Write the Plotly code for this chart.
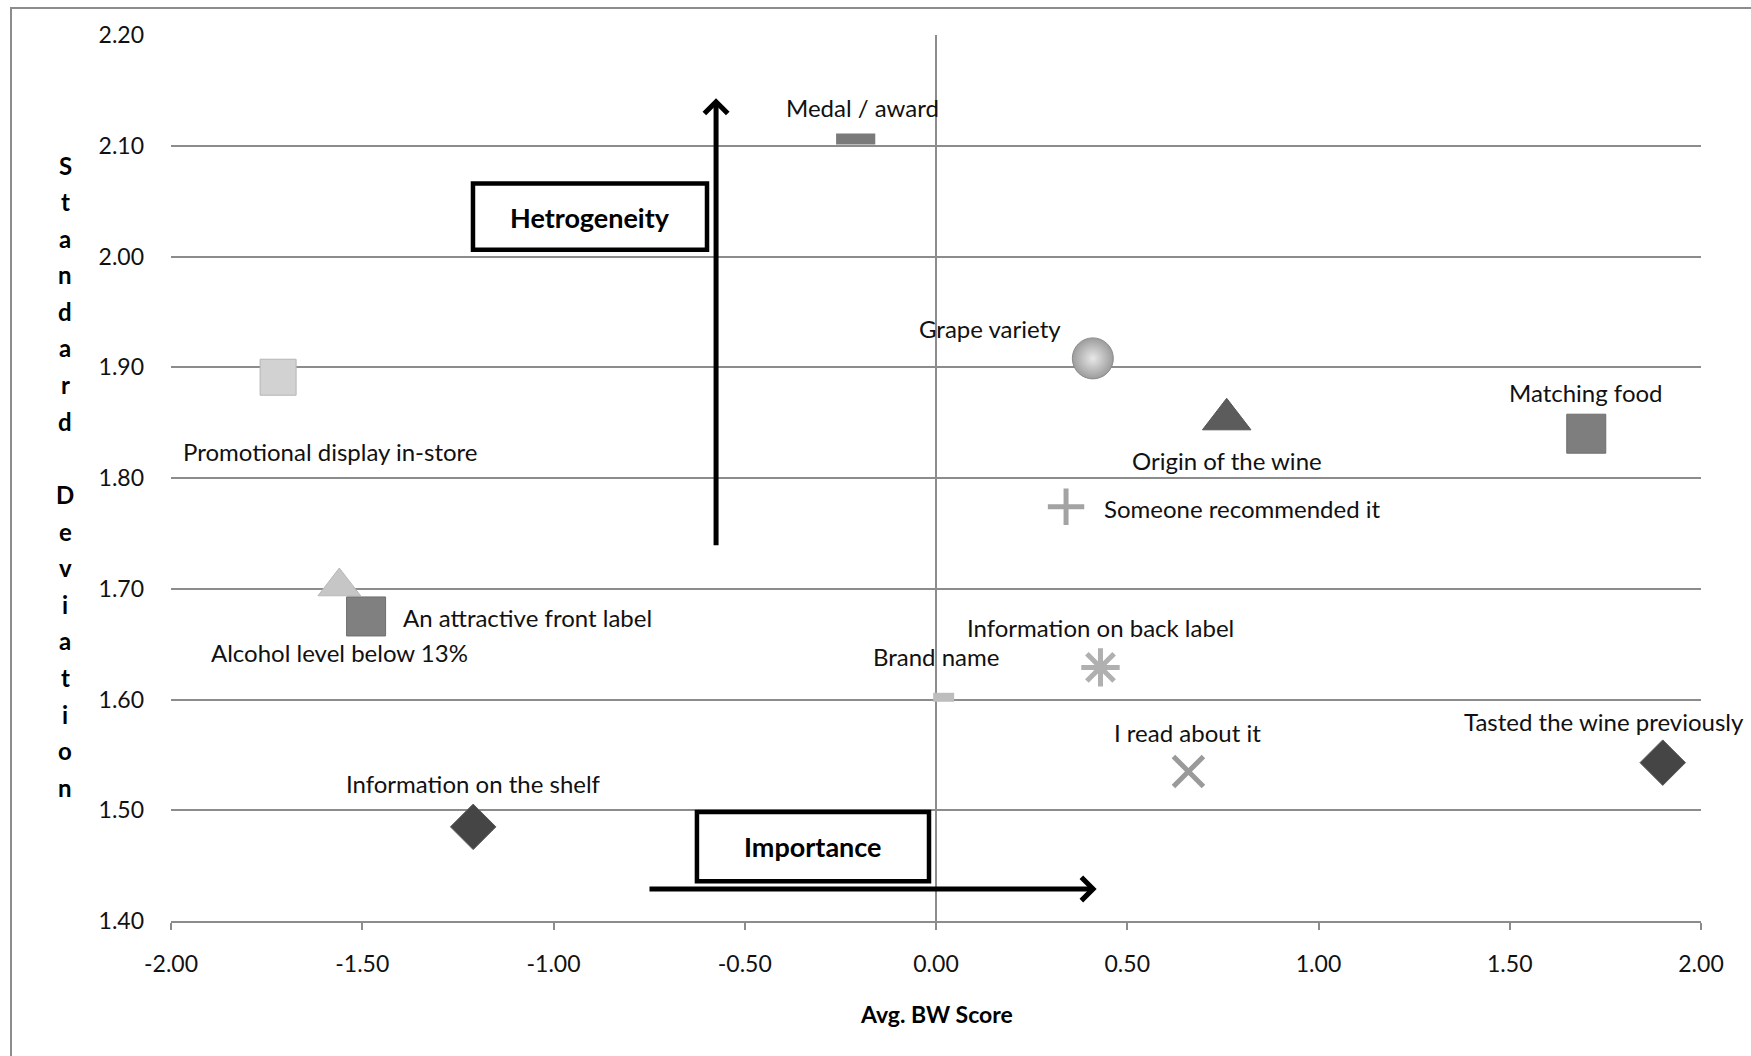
import plotly.graph_objects as go

# ---------------- data ----------------
labels = ["Medal / award", "Grape variety", "Origin of the wine", "Matching food",
          "Promotional display in-store", "Someone recommended it", "Alcohol level below 13%",
          "An attractive front label", "Information on back label", "Brand name",
          "I read about it", "Tasted the wine previously", "Information on the shelf"]
avg_bw_score = [-0.21, 0.41, 0.76, 1.70, -1.72, 0.34, -1.56, -1.49, 0.43, 0.02, 0.66, 1.90, -1.21]
std_dev = [2.106, 1.908, 1.853, 1.840, 1.891, 1.774, 1.702, 1.675, 1.629, 1.602, 1.535, 1.543, 1.485]

x_tickvals = [-2.0, -1.5, -1.0, -0.5, 0.0, 0.5, 1.0, 1.5, 2.0]
x_ticktext = ["-2.00", "-1.50", "-1.00", "-0.50", "0.00", "0.50", "1.00", "1.50", "2.00"]
y_tickvals = [1.4, 1.5, 1.6, 1.7, 1.8, 1.9, 2.0, 2.1, 2.2]
y_ticktext = ["1.40", "1.50", "1.60", "1.70", "1.80", "1.90", "2.00", "2.10", "2.20"]

# ---------------- styles ----------------
FONT = "Lato, 'Open Sans', sans-serif"
styles = {
    "Medal / award":               dict(symbol="line-ew", size=28, color="#8a8a8a", lw=11, lc="#7a7a7a"),
    "Grape variety":               dict(symbol="circle", size=41, color="#9c9c9c", lw=1, lc="#8a8a8a", grad="#e8e8e8"),
    "Origin of the wine":          dict(symbol="triangle-up", size=42, color="#5c5c5c", lw=1, lc="#555555"),
    "Matching food":               dict(symbol="square", size=39, color="#7e7e7e", lw=1, lc="#6e6e6e"),
    "Promotional display in-store": dict(symbol="square", size=36, color="#d2d2d2", lw=1, lc="#b5b5b5"),
    "Someone recommended it":      dict(symbol="cross-thin", size=26, color="#a3a3a3", lw=5, lc="#a3a3a3"),
    "Alcohol level below 13%":     dict(symbol="triangle-up", size=37, color="#c6c6c6", lw=1, lc="#b8b8b8"),
    "An attractive front label":   dict(symbol="square", size=39, color="#808080", lw=1, lc="#6e6e6e"),
    "Information on back label":   dict(symbol="asterisk", size=32, color="#b0b0b0", lw=5, lc="#b0b0b0"),
    "Brand name":                  dict(symbol="line-ew", size=15, color="#c4c4c4", lw=9, lc="#bdbdbd"),
    "I read about it":             dict(symbol="x-thin", size=30, color="#9a9a9a", lw=5, lc="#9a9a9a"),
    "Tasted the wine previously":  dict(symbol="diamond", size=35, color="#454545", lw=1, lc="#5a5a5a"),
    "Information on the shelf":    dict(symbol="diamond", size=35, color="#454545", lw=1, lc="#5a5a5a"),
}
# label offsets in pixels relative to marker centre (dx, dy up, anchor)
label_pos = {
    "Medal / award": (7, 32, "center"),
    "Grape variety": (-103, 30, "center"),
    "Origin of the wine": (0, -41, "center"),
    "Matching food": (0, 41, "center"),
    "Promotional display in-store": (52, -74, "center"),
    "Someone recommended it": (36, -2, "left"),
    "Alcohol level below 13%": (0, -66, "center"),
    "An attractive front label": (35, -1, "left"),
    "Information on back label": (0, 40, "center"),
    "Brand name": (-8, 41, "center"),
    "I read about it": (-1, 39, "center"),
    "Tasted the wine previously": (-59, 41, "center"),
    "Information on the shelf": (0, 43, "center"),
}

W, H = 1751, 1056
PL, PR, PT, PB = 171, 1701, 35, 921


def px_x(px):
    return (px - PL) / (PR - PL)


def px_y(py):
    return (PB - py) / (PB - PT)


fig = go.Figure()
for lab, xv, yv in zip(labels, avg_bw_score, std_dev):
    s = styles[lab]
    marker = dict(symbol=s["symbol"], size=s["size"], color=s["color"],
                  line=dict(width=s["lw"], color=s["lc"]))
    if "grad" in s:
        marker["gradient"] = dict(type="radial", color=s["grad"])
    fig.add_trace(go.Scatter(x=[xv], y=[yv], mode="markers", name=lab,
                             marker=marker, showlegend=False, cliponaxis=False))
    dx, dy, anc = label_pos[lab]
    fig.add_annotation(x=xv, y=yv, xref="x", yref="y", text=lab, showarrow=False,
                       xshift=dx, yshift=dy, xanchor=anc, yanchor="middle",
                       font=dict(family=FONT, size=24, color="#111111"))

shapes = []
# outer chart border
shapes.append(dict(type="rect", xref="paper", yref="paper",
                   x0=px_x(11), x1=px_x(1760), y0=px_y(1070), y1=px_y(8),
                   line=dict(color="#8c8c8c", width=2), fillcolor="rgba(0,0,0,0)", layer="below"))
# Hetrogeneity box
shapes.append(dict(type="rect", xref="x", yref="y", x0=-1.2105, x1=-0.5987, y0=2.006, y1=2.066,
                   line=dict(color="black", width=4.5), fillcolor="white", layer="above"))
# Importance box
shapes.append(dict(type="rect", xref="x", yref="y", x0=-0.625, x1=-0.0183, y0=1.436, y1=1.4984,
                   line=dict(color="black", width=4.5), fillcolor="white", layer="above"))
fig.update_layout(shapes=shapes)

fig.add_annotation(x=-0.905, y=2.035, xref="x", yref="y", text="<b>Hetrogeneity</b>", showarrow=False,
                   font=dict(family=FONT, size=27, color="black"))
fig.add_annotation(x=-0.322, y=1.467, xref="x", yref="y", text="<b>Importance</b>", showarrow=False,
                   font=dict(family=FONT, size=27, color="black"))

# arrows
fig.add_annotation(x=-0.575, y=2.143, ax=-0.575, ay=1.738, xref="x", yref="y", axref="x", ayref="y",
                   text="", showarrow=True, arrowhead=4, arrowwidth=5, arrowsize=0.9, arrowcolor="black")
fig.add_annotation(x=0.42, y=1.429, ax=-0.753, ay=1.429, xref="x", yref="y", axref="x", ayref="y",
                   text="", showarrow=True, arrowhead=4, arrowwidth=5, arrowsize=0.9, arrowcolor="black")

# y axis title: stacked letters
title_lines = list("Standard") + [""] + list("Deviation")
for i, ch in enumerate(title_lines):
    if ch:
        fig.add_annotation(x=px_x(65), y=px_y(165 + i * 36.6), xref="paper", yref="paper",
                           text="<b>%s</b>" % ch, showarrow=False, xanchor="center", yanchor="middle",
                           font=dict(family=FONT, size=24, color="black"))
# x axis title
fig.add_annotation(x=px_x(936), y=px_y(1014), xref="paper", yref="paper", text="<b>Avg. BW Score</b>",
                   showarrow=False, xanchor="center", yanchor="middle",
                   font=dict(family=FONT, size=23, color="black"))

fig.update_xaxes(range=[-2, 2], tickvals=x_tickvals, ticktext=x_ticktext, showgrid=False,
                 zeroline=True, zerolinecolor="#8c8c8c", zerolinewidth=2,
                 showline=True, linecolor="#8c8c8c", linewidth=2,
                 ticks="outside", ticklen=7, tickwidth=2, tickcolor="#8c8c8c",
                 ticklabelstandoff=14,
                 tickfont=dict(family=FONT, size=23, color="#111111"), fixedrange=True)
fig.update_yaxes(range=[1.4, 2.2], tickvals=y_tickvals, ticktext=y_ticktext, showgrid=True,
                 gridcolor="#8c8c8c", gridwidth=2, zeroline=False, showline=False, ticks="",
                 ticklabelstandoff=26,
                 tickfont=dict(family=FONT, size=23, color="#111111"), fixedrange=True)

fig.update_layout(width=W, height=H, margin=dict(l=PL, r=W - PR, t=PT, b=H - PB),
                  paper_bgcolor="white", plot_bgcolor="white", showlegend=False,
                  font=dict(family=FONT))

fig.write_html("out.html")
